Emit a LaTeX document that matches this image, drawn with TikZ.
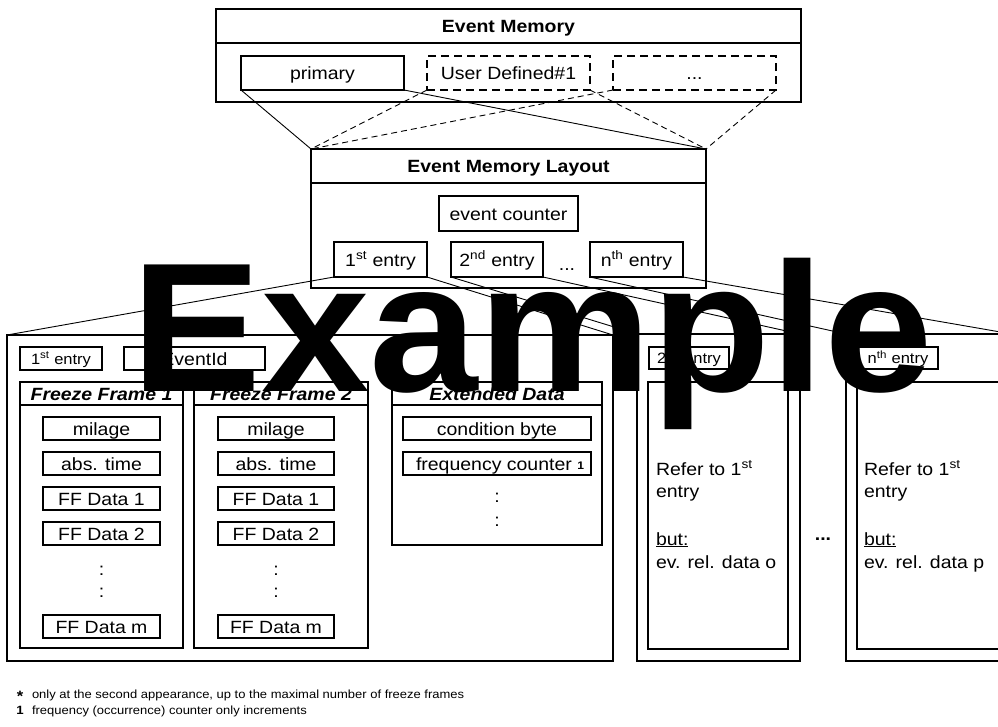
\documentclass[tikz,border=0pt]{standalone}
\usepackage{fontspec}
\setmainfont{Liberation Sans}[FakeStretch=1.1]
\newfontfamily\wmfont{Liberation Sans}[FakeStretch=1.06]
\tikzset{
  txt/.style={inner sep=0pt, outer sep=0pt, text height=13pt, text depth=0pt, font=\fontsize{17.7}{21}\selectfont},
  sz/.style 2 args={minimum width=#1pt, minimum height=#2pt},
  obox/.style={txt, draw, line width=1.8pt},
  fbox/.style={txt, draw, line width=1.5pt},
  ibox/.style={txt, draw, line width=1.1pt},
  dbox/.style={txt, draw, line width=1.1pt, dash pattern=on 8pt off 5pt},
  conn/.style={line width=0.9pt},
  dconn/.style={conn, dash pattern=on 6pt off 4pt},
  ttl/.style={font=\bfseries\fontsize{17.7}{21}\selectfont},
  hdr/.style={font=\bfseries\itshape\fontsize{17.7}{21}\selectfont},
  sm/.style={font=\fontsize{15}{18}\selectfont, text height=11pt},
  fn/.style={txt, font=\fontsize{11.8}{14}\selectfont},
}
\begin{document}
\begin{tikzpicture}[x=1pt,y=-1pt]
\fill[white] (0,0) rectangle (998,726);
\useasboundingbox (0,0) rectangle (998,726);
\clip (0,0) rectangle (998,726);

% Event Memory
\node[obox, ttl, sz={585}{34}] (emt) at (508.5,26) {Event Memory};
\node[obox, sz={585}{59}] (emb) at (508.5,72.5) {};
\node[ibox, sz={163}{34}] (prim) at (322.5,73) {primary};
\node[dbox, sz={163}{34}] (ud) at (508.5,73) {User Defined\#1};
\node[dbox, sz={163}{34}] (more) at (694.5,73) {...};

% Event Memory Layout
\node[obox, ttl, sz={395}{34}] (lyt) at (508.5,166) {Event Memory Layout};
\node[obox, sz={395}{105}] (lyb) at (508.5,235.5) {};
\node[ibox, sz={139}{35}] (evc) at (508.5,213.5) {event counter};
\node[ibox, sz={93}{35}] (e1) at (380.5,259.5) {1\textsuperscript{st} entry};
\node[ibox, sz={92}{35}] (e2) at (497,259.5) {2\textsuperscript{nd} entry};
\node[ibox, sz={93}{35}] (en) at (636.5,259.5) {n\textsuperscript{th} entry};
\node[txt] (lydots) at (567,264) {...};

% first entry
\node[obox, sz={606}{326}] (b1) at (310,498) {};
\node[ibox, sm, sz={82}{23}] (l1) at (61,358.5) {1\textsuperscript{st} entry};
\node[ibox, sz={141}{23}] (eid) at (194.5,358.5) {EventId};
\node[fbox, hdr, sz={163}{23}] (ff1t) at (101.5,393.5) {Freeze Frame 1};
\node[fbox, sz={163}{243}] (ff1b) at (101.5,526.5) {};
\node[fbox, hdr, sz={174}{23}] (ff2t) at (281,393.5) {Freeze Frame 2};
\node[fbox, sz={174}{243}] (ff2b) at (281,526.5) {};
\node[fbox, hdr, sz={210}{23}] (ext) at (497,393.5) {Extended Data};
\node[fbox, sz={210}{140}] (exb) at (497,475) {};

\foreach \cx/\w/\k in {101.5/117/a, 276/116/b} {
  \node[ibox, sz={\w}{23}] (mil\k) at (\cx,428.5) {milage};
  \node[ibox, sz={\w}{23}] (abs\k) at (\cx,463.5) {abs. time};
  \node[ibox, sz={\w}{23}] (ffa\k) at (\cx,498.5) {FF Data 1};
  \node[ibox, sz={\w}{23}] (ffb\k) at (\cx,533.5) {FF Data 2};
  \node[txt, anchor=base] (dta\k) at (\cx,575) {:};
  \node[txt, anchor=base] (dtb\k) at (\cx,597) {:};
  \node[ibox, sz={\w}{23}] (ffm\k) at (\cx,626.5) {FF Data m};
}
\node[ibox, sz={188}{23}] (cond) at (497,428.5) {condition byte};
\node[ibox, sz={188}{23}] (freq) at (497,463.5) {\hspace*{6pt}frequency counter \raisebox{1pt}{\bfseries\fontsize{11}{11}\selectfont 1}};
\node[txt, anchor=base] (exd1) at (497,502) {:};
\node[txt, anchor=base] (exd2) at (497,526) {:};

% second entry
\node[obox, sz={163}{327}] (b2) at (718.5,497.5) {};
\node[ibox, sm, sz={80}{22}] (l2) at (689,358) {2\textsuperscript{nd} entry};
\node[fbox, sz={140}{267}] (in2) at (718,515.5) {};
\node[txt, anchor=base west] (r2a) at (656,475) {Refer to 1\textsuperscript{st}};
\node[txt, anchor=base west] (r2b) at (656,497) {entry};
\node[txt, anchor=base west] (r2c) at (656,545) {\underline{but:}};
\node[txt, anchor=base west] (r2d) at (656,568) {ev. rel. data o};

\node[txt, font=\bfseries\fontsize{17.7}{21}\selectfont, anchor=base] (mid) at (823,540) {...};

% n-th entry
\node[obox, sz={166}{327}] (b3) at (929,497.5) {};
\node[ibox, sm, sz={80}{22}] (l3) at (898,358) {n\textsuperscript{th} entry};
\node[fbox, sz={143}{267}] (in3) at (928.5,515.5) {};
\node[txt, anchor=base west] (r3a) at (864,475) {Refer to 1\textsuperscript{st}};
\node[txt, anchor=base west] (r3b) at (864,497) {entry};
\node[txt, anchor=base west] (r3c) at (864,545) {\underline{but:}};
\node[txt, anchor=base west] (r3d) at (864,568) {ev. rel. data p};

% connectors
\draw[conn] (prim.south west) -- (lyt.north west);
\draw[conn] (prim.south east) -- (lyt.north east);
\draw[dconn] (ud.south west) -- (lyt.north west);
\draw[dconn] (ud.south east) -- (lyt.north east);
\draw[dconn] (more.south west) -- (lyt.north west);
\draw[dconn] (more.south east) -- (lyt.north east);
\draw[conn] (e1.south west) -- (b1.north west);
\draw[conn] (e1.south east) -- (b1.north east);
\draw[conn] (e2.south west) -- (b2.north west);
\draw[conn] (e2.south east) -- (b2.north east);
\draw[conn] (en.south west) -- (b3.north west);
\draw[conn] (en.south east) -- (b3.north east);

% footnotes
\node[fn, anchor=base, font=\bfseries\fontsize{15}{15}\selectfont] (fstar) at (20,701) {*};
\node[fn, anchor=base west] (ftx1) at (32,698) {only at the second appearance, up to the maximal number of freeze frames};
\node[fn, anchor=base, font=\bfseries\fontsize{12}{12}\selectfont] (fone) at (20,714) {1};
\node[fn, anchor=base west] (ftx2) at (32,714) {frequency (occurrence) counter only increments};

% watermark
\node[inner sep=0pt, anchor=base west, font=\wmfont\bfseries\fontsize{184}{184}\selectfont] (wm) at (131,391) {Example};
\end{tikzpicture}
\end{document}
